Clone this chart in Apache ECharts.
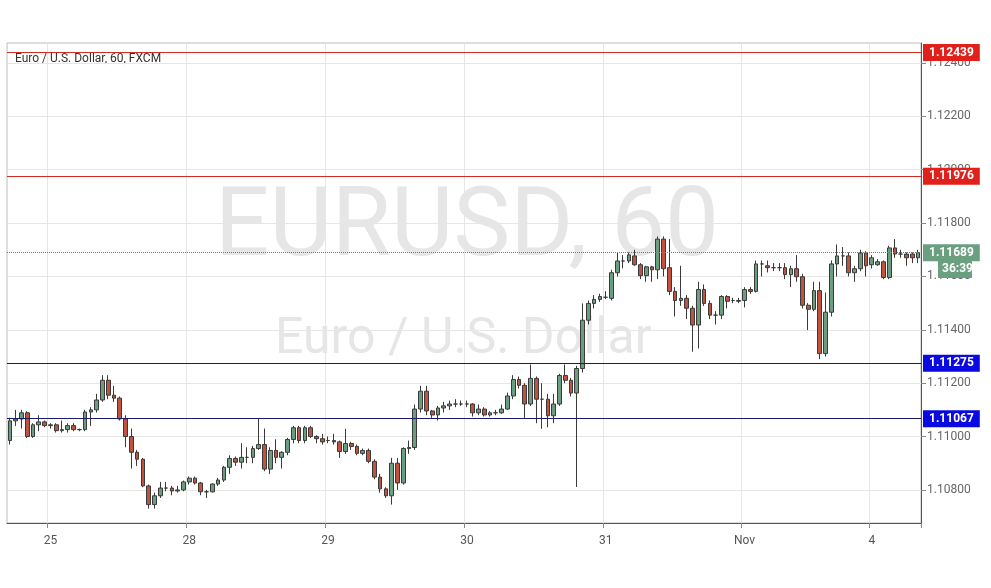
<!DOCTYPE html>
<html><head><meta charset="utf-8">
<script src="https://cdn.jsdelivr.net/npm/echarts@6/dist/echarts.min.js"></script>
<style>html,body{margin:0;padding:0;background:#fff}#c{width:991px;height:588px}</style>
</head><body><div id="c"></div>
<script>
// [open, close, low, high]
const candles = [
[1.10985,1.11059,1.10970,1.11070],[1.11059,1.11066,1.11040,1.11100],[1.11066,1.11089,1.11030,1.11100],[1.11089,1.11000,1.10995,1.11095],
[1.11000,1.11044,1.10995,1.11050],[1.11044,1.11055,1.11020,1.11080],[1.11055,1.11041,1.11035,1.11060],[1.11041,1.11044,1.11030,1.11050],
[1.11044,1.11022,1.11015,1.11050],[1.11022,1.11026,1.11015,1.11060],[1.11026,1.11041,1.11015,1.11050],[1.11041,1.11026,1.11020,1.11050],
[1.11026,1.11026,1.11020,1.11030],[1.11026,1.11092,1.11020,1.11100],[1.11092,1.11100,1.11040,1.11110],[1.11100,1.11137,1.11090,1.11160],
[1.11137,1.11211,1.11130,1.11230],[1.11211,1.11155,1.11140,1.11230],[1.11155,1.11144,1.11130,1.11190],[1.11144,1.11066,1.11060,1.11150],
[1.11066,1.11000,1.10960,1.11080],[1.11000,1.10941,1.10880,1.11030],[1.10941,1.10915,1.10890,1.10950],[1.10915,1.10815,1.10810,1.10920],
[1.10815,1.10745,1.10730,1.10820],[1.10745,1.10778,1.10730,1.10790],[1.10778,1.10807,1.10770,1.10830],[1.10807,1.10807,1.10795,1.10830],
[1.10807,1.10796,1.10780,1.10815],[1.10796,1.10800,1.10790,1.10815],[1.10800,1.10830,1.10795,1.10835],[1.10830,1.10844,1.10820,1.10850],
[1.10844,1.10826,1.10820,1.10850],[1.10826,1.10793,1.10780,1.10830],[1.10793,1.10793,1.10770,1.10800],[1.10793,1.10822,1.10790,1.10825],
[1.10822,1.10837,1.10815,1.10845],[1.10837,1.10885,1.10830,1.10890],[1.10885,1.10918,1.10860,1.10930],[1.10918,1.10904,1.10890,1.10925],
[1.10904,1.10922,1.10880,1.10975],[1.10922,1.10922,1.10900,1.10960],[1.10922,1.10955,1.10900,1.10965],[1.10955,1.10970,1.10950,1.11066],
[1.10970,1.10878,1.10870,1.11030],[1.10878,1.10948,1.10860,1.10960],[1.10948,1.10922,1.10900,1.10990],[1.10922,1.10941,1.10880,1.10945],
[1.10941,1.10989,1.10930,1.10995],[1.10989,1.11033,1.10975,1.11040],[1.11033,1.10985,1.10975,1.11040],[1.10985,1.11033,1.10975,1.11040],
[1.11033,1.11000,1.10995,1.11040],[1.11000,1.10992,1.10975,1.11005],[1.10992,1.10980,1.10970,1.11010],[1.10985,1.10985,1.10975,1.11000],
[1.10985,1.10980,1.10970,1.11010],[1.10980,1.10944,1.10920,1.10985],[1.10944,1.10974,1.10935,1.11029],[1.10974,1.10963,1.10950,1.10980],
[1.10963,1.10937,1.10930,1.10970],[1.10937,1.10948,1.10930,1.10955],[1.10948,1.10907,1.10900,1.10955],[1.10907,1.10848,1.10840,1.10915],
[1.10848,1.10804,1.10790,1.10860],[1.10804,1.10778,1.10770,1.10810],[1.10778,1.10900,1.10745,1.10920],[1.10900,1.10826,1.10800,1.10920],
[1.10826,1.10955,1.10820,1.10960],[1.10955,1.10959,1.10935,1.10985],[1.10959,1.11103,1.10950,1.11120],[1.11103,1.11170,1.11090,1.11190],
[1.11170,1.11096,1.11080,1.11190],[1.11096,1.11081,1.11070,1.11100],[1.11081,1.11107,1.11060,1.11115],[1.11107,1.11115,1.11090,1.11130],
[1.11115,1.11122,1.11100,1.11135],[1.11122,1.11122,1.11110,1.11140],[1.11122,1.11122,1.11115,1.11135],[1.11122,1.11122,1.11110,1.11135],
[1.11122,1.11089,1.11075,1.11125],[1.11089,1.11103,1.11080,1.11120],[1.11103,1.11081,1.11075,1.11110],[1.11081,1.11089,1.11075,1.11095],
[1.11089,1.11089,1.11080,1.11100],[1.11089,1.11103,1.11085,1.11120],[1.11103,1.11152,1.11100,1.11165],[1.11152,1.11214,1.11140,1.11230],
[1.11214,1.11192,1.11180,1.11225],[1.11192,1.11122,1.11070,1.11200],[1.11122,1.11218,1.11115,1.11270],[1.11218,1.11140,1.11050,1.11225],
[1.11140,1.11140,1.11029,1.11200],[1.11140,1.11078,1.11035,1.11160],[1.11078,1.11122,1.11050,1.11160],[1.11122,1.11229,1.11115,1.11235],
[1.11229,1.11211,1.11200,1.11270],[1.11211,1.11163,1.11150,1.11220],[1.11163,1.11255,1.10811,1.11265],[1.11255,1.11436,1.11240,1.11499],
[1.11436,1.11499,1.11420,1.11510],[1.11499,1.11514,1.11480,1.11530],[1.11514,1.11525,1.11505,1.11535],[1.11522,1.11522,1.11515,1.11545],
[1.11518,1.11614,1.11510,1.11625],[1.11614,1.11658,1.11600,1.11690],[1.11658,1.11658,1.11630,1.11680],[1.11658,1.11681,1.11650,1.11690],
[1.11677,1.11644,1.11640,1.11700],[1.11644,1.11603,1.11590,1.11650],[1.11603,1.11636,1.11580,1.11640],[1.11636,1.11625,1.11580,1.11640],
[1.11625,1.11740,1.11590,1.11750],[1.11740,1.11629,1.11600,1.11750],[1.11633,1.11544,1.11530,1.11740],[1.11544,1.11510,1.11450,1.11560],
[1.11510,1.11518,1.11490,1.11640],[1.11518,1.11481,1.11440,1.11530],[1.11481,1.11418,1.11318,1.11490],[1.11418,1.11551,1.11330,1.11580],
[1.11551,1.11499,1.11490,1.11570],[1.11499,1.11455,1.11440,1.11510],[1.11455,1.11455,1.11420,1.11470],[1.11455,1.11525,1.11440,1.11530],
[1.11525,1.11507,1.11480,1.11530],[1.11510,1.11510,1.11500,1.11520],[1.11507,1.11510,1.11500,1.11520],[1.11510,1.11551,1.11484,1.11560],
[1.11551,1.11544,1.11535,1.11560],[1.11544,1.11647,1.11540,1.11660],[1.11647,1.11647,1.11600,1.11660],[1.11640,1.11633,1.11615,1.11660],
[1.11633,1.11633,1.11620,1.11650],[1.11633,1.11633,1.11620,1.11650],[1.11633,1.11607,1.11590,1.11650],[1.11607,1.11629,1.11560,1.11640],
[1.11629,1.11599,1.11580,1.11680],[1.11599,1.11492,1.11480,1.11610],[1.11492,1.11477,1.11399,1.11500],[1.11477,1.11547,1.11470,1.11580],
[1.11547,1.11311,1.11290,1.11580],[1.11311,1.11466,1.11300,1.11540],[1.11466,1.11647,1.11450,1.11660],[1.11647,1.11677,1.11600,1.11720],
[1.11677,1.11677,1.11640,1.11710],[1.11677,1.11614,1.11600,1.11690],[1.11614,1.11629,1.11580,1.11640],[1.11629,1.11688,1.11620,1.11700],
[1.11688,1.11640,1.11600,1.11695],[1.11644,1.11670,1.11630,1.11680],[1.11644,1.11655,1.11640,1.11665],[1.11655,1.11596,1.11590,1.11660],
[1.11596,1.11707,1.11590,1.11715],[1.11707,1.11684,1.11670,1.11740],[1.11684,1.11684,1.11670,1.11700],[1.11684,1.11670,1.11640,1.11690],
[1.11684,1.11670,1.11650,1.11690],[1.11670,1.11689,1.11650,1.11700]
];
const dayLabels = {7:'25',31:'28',55:'29',79:'30',103:'31',127:'Nov',149:'4'};
const categories = candles.map((_, i) => dayLabels[i] || '');
const yTicks = [1.108,1.110,1.112,1.114,1.116,1.118,1.120,1.122,1.124];
const redLevels = [1.12439, 1.11976];
const blueLevels = [1.11275, 1.11067];
const lastPrice = 1.11689;
const countdown = '36:39';

const chart = echarts.init(document.getElementById('c'));
const showIdx = (i) => dayLabels[i] !== undefined;
const lbl = (v, col) => ({show:true, position:'end', formatter: v.toFixed(5), backgroundColor:col, color:'#fff',
    padding:[3,6,2,6], fontSize:12, fontWeight:'bold', fontFamily:'Roboto', distance:2});
const lvl = (v, lineCol, bg) => ({yAxis: v, lineStyle:{color:lineCol, width:1, type:'solid'}, label:lbl(v,bg)});
chart.setOption({
  animation:false,
  grid:{left:7, right:70, top:43, bottom:65, show:true, borderColor:'#bbb', borderWidth:1},
  graphic:[
    {type:'text', left:215, top:183, z:0, style:{text:'EURUSD, 60', fontSize:96, fill:'#e6e6e6', fontFamily:'Roboto'}},
    {type:'text', left:275, top:315, z:0, style:{text:'Euro / U.S. Dollar', fontSize:50, fill:'#e6e6e6', fontFamily:'Roboto'}},
    {type:'text', left:15, top:53, style:{text:'Euro / U.S. Dollar, 60, FXCM', fontSize:12, fill:'#333', fontFamily:'Roboto'}},
    {type:'rect', left:938, top:261, shape:{width:34,height:17}, style:{fill:'#6a9f80'}, z:20},
    {type:'text', left:942, top:263, z:21, style:{text:countdown, fontSize:12, fontWeight:'bold', fill:'#fff', fontFamily:'Roboto'}}
  ],
  xAxis:{type:'category', data:categories, boundaryGap:true,
    axisLine:{lineStyle:{color:'#555'}}, axisTick:{show:true, interval:(i)=>showIdx(i), lineStyle:{color:'#888'}},
    axisLabel:{interval:(i)=>showIdx(i), color:'#555', fontSize:12, fontFamily:'Roboto', margin:12},
    splitLine:{show:true, interval:(i)=>showIdx(i), lineStyle:{color:'#e6e6e6'}}},
  yAxis:{type:'value', position:'right', min:1.10676, max:1.12475, scale:true,
    axisLine:{show:true, lineStyle:{color:'#555'}},
    axisTick:{show:true, customValues:yTicks, lineStyle:{color:'#888'}},
    axisLabel:{customValues:yTicks, formatter:v=>v.toFixed(5), color:'#666', fontSize:12, fontFamily:'Roboto', margin:6},
    splitLine:{show:true, lineStyle:{color:'#e6e6e6'}}},
  series:[{
    type:'candlestick', data:candles, barWidth:'72%',
    itemStyle:{color:'#6b9e80', color0:'#c0523f', borderColor:'#3a3a3a', borderColor0:'#3a3a3a', borderWidth:1},
    markLine:{symbol:'none', silent:true, z:10, precision:5, data:[
      ...redLevels.map(v=>lvl(v,'#d42a20','#e0201a')),
      ...blueLevels.map(v=>lvl(v,'#1a1a66','#0a0ae0')),
      {yAxis:lastPrice, lineStyle:{color:'#4f8f70', type:'dotted', width:1}, label:lbl(lastPrice,'#6a9f80')}
    ]}
  }]
});
</script></body></html>
